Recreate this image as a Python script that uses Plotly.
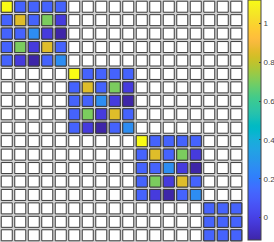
import plotly.graph_objects as go

# --- data ---
n_cells = 18
block_starts = [0, 5, 10, 15]
block_sizes = [5, 5, 5, 3]
# 5x5 block pattern (same for first three blocks)
block5 = [
    [1.12, 0.12, 0.12, 0.12, 0.12],
    [0.12, 0.85, 0.12, 0.70, -0.02],
    [0.12, 0.12, 0.26, -0.02, -0.115],
    [0.12, 0.70, -0.02, 0.85, 0.12],
    [0.12, -0.02, -0.115, 0.12, 0.26],
]
block3 = [
    [0.12, 0.12, 0.12],
    [0.12, 0.12, 0.12],
    [0.12, 0.12, 0.12],
]
blocks = [block5, block5, block5, block3]
cmin, cmax = -0.115, 1.12
tick_vals = [0, 0.2, 0.4, 0.6, 0.8, 1]
tick_text = ["0", "0.2", "0.4", "0.6", "0.8", "1"]

parula = [
    (0.2422, 0.1504, 0.6603), (0.2504, 0.1650, 0.7076), (0.2578, 0.1818, 0.7511),
    (0.2647, 0.1978, 0.7952), (0.2706, 0.2147, 0.8364), (0.2751, 0.2342, 0.8710),
    (0.2783, 0.2559, 0.8991), (0.2803, 0.2782, 0.9221), (0.2813, 0.3006, 0.9414),
    (0.2810, 0.3228, 0.9579), (0.2795, 0.3447, 0.9717), (0.2760, 0.3667, 0.9829),
    (0.2699, 0.3892, 0.9906), (0.2602, 0.4123, 0.9952), (0.2440, 0.4358, 0.9988),
    (0.2206, 0.4603, 0.9973), (0.1963, 0.4847, 0.9892), (0.1834, 0.5074, 0.9798),
    (0.1786, 0.5289, 0.9682), (0.1764, 0.5499, 0.9520), (0.1687, 0.5703, 0.9359),
    (0.1540, 0.5902, 0.9218), (0.1460, 0.6091, 0.9079), (0.1380, 0.6276, 0.8973),
    (0.1248, 0.6459, 0.8883), (0.1113, 0.6635, 0.8763), (0.0952, 0.6798, 0.8598),
    (0.0689, 0.6948, 0.8394), (0.0297, 0.7082, 0.8163), (0.0036, 0.7203, 0.7917),
    (0.0067, 0.7312, 0.7660), (0.0433, 0.7411, 0.7394), (0.0964, 0.7500, 0.7120),
    (0.1408, 0.7584, 0.6842), (0.1717, 0.7670, 0.6554), (0.1938, 0.7758, 0.6251),
    (0.2161, 0.7843, 0.5923), (0.2470, 0.7918, 0.5567), (0.2906, 0.7973, 0.5188),
    (0.3406, 0.8008, 0.4789), (0.3909, 0.8029, 0.4354), (0.4456, 0.8024, 0.3909),
    (0.5044, 0.7993, 0.3480), (0.5616, 0.7942, 0.3045), (0.6174, 0.7876, 0.2612),
    (0.6720, 0.7793, 0.2227), (0.7242, 0.7698, 0.1910), (0.7738, 0.7598, 0.1646),
    (0.8203, 0.7498, 0.1535), (0.8634, 0.7406, 0.1596), (0.9035, 0.7330, 0.1774),
    (0.9393, 0.7288, 0.2100), (0.9728, 0.7298, 0.2394), (0.9956, 0.7434, 0.2371),
    (0.9970, 0.7659, 0.2199), (0.9952, 0.7893, 0.2028), (0.9892, 0.8136, 0.1885),
    (0.9786, 0.8386, 0.1766), (0.9676, 0.8639, 0.1643), (0.9610, 0.8890, 0.1537),
    (0.9597, 0.9135, 0.1423), (0.9628, 0.9373, 0.1265), (0.9691, 0.9606, 0.1064),
    (0.9769, 0.9839, 0.0805),
]
colorscale = [
    [i / (len(parula) - 1), "rgb(%d,%d,%d)" % tuple(round(c * 255) for c in rgb)]
    for i, rgb in enumerate(parula)
]

# all grid positions (empty cells)
gx, gy = [], []
for r in range(n_cells):
    for c in range(n_cells):
        gx.append(c)
        gy.append(r)

# filled cells
fx, fy, fv = [], [], []
for start, size, blk in zip(block_starts, block_sizes, blocks):
    for i in range(size):
        for j in range(size):
            fx.append(start + j)
            fy.append(start + i)
            fv.append(blk[i][j])

W, H = 274, 242
plot_w = 243

fig = go.Figure()
fig.add_trace(go.Scatter(
    x=gx, y=gy, mode="markers", hoverinfo="skip", showlegend=False,
    marker=dict(symbol="square", size=11, color="white",
                line=dict(color="#3c3c3c", width=1)),
))
fig.add_trace(go.Scatter(
    x=fx, y=fy, mode="markers", showlegend=False,
    marker=dict(symbol="square", size=11, color=fv, colorscale=colorscale,
                cmin=cmin, cmax=cmax,
                line=dict(color="#3c3c3c", width=1),
                colorbar=dict(
                    x=248 / W, xanchor="left", xref="paper",
                    y=1, yanchor="top", yref="paper",
                    len=240 / H, lenmode="fraction",
                    thickness=13, thicknessmode="pixels",
                    outlinewidth=1, outlinecolor="#444",
                    tickvals=tick_vals, ticktext=tick_text,
                    ticks="inside", ticklen=2, tickcolor="#444",
                    tickfont=dict(family="Liberation Sans, Arial", size=8, color="#444"),
                    xpad=0, ypad=0,
                )),
))

fig.update_layout(
    width=W, height=H,
    margin=dict(l=0, r=0, t=0, b=0, autoexpand=False),
    paper_bgcolor="white", plot_bgcolor="#d4d4d4",
    xaxis=dict(range=[-0.5, n_cells - 0.5], domain=[0, plot_w / W],
               visible=False, fixedrange=True),
    yaxis=dict(range=[n_cells - 0.5, -0.5], domain=[0, 1],
               visible=False, fixedrange=True),
)

fig.write_html(
    "out.html",
    config={"displayModeBar": False},
    post_script="document.body.style.margin='0';document.body.style.overflow='hidden';",
)
